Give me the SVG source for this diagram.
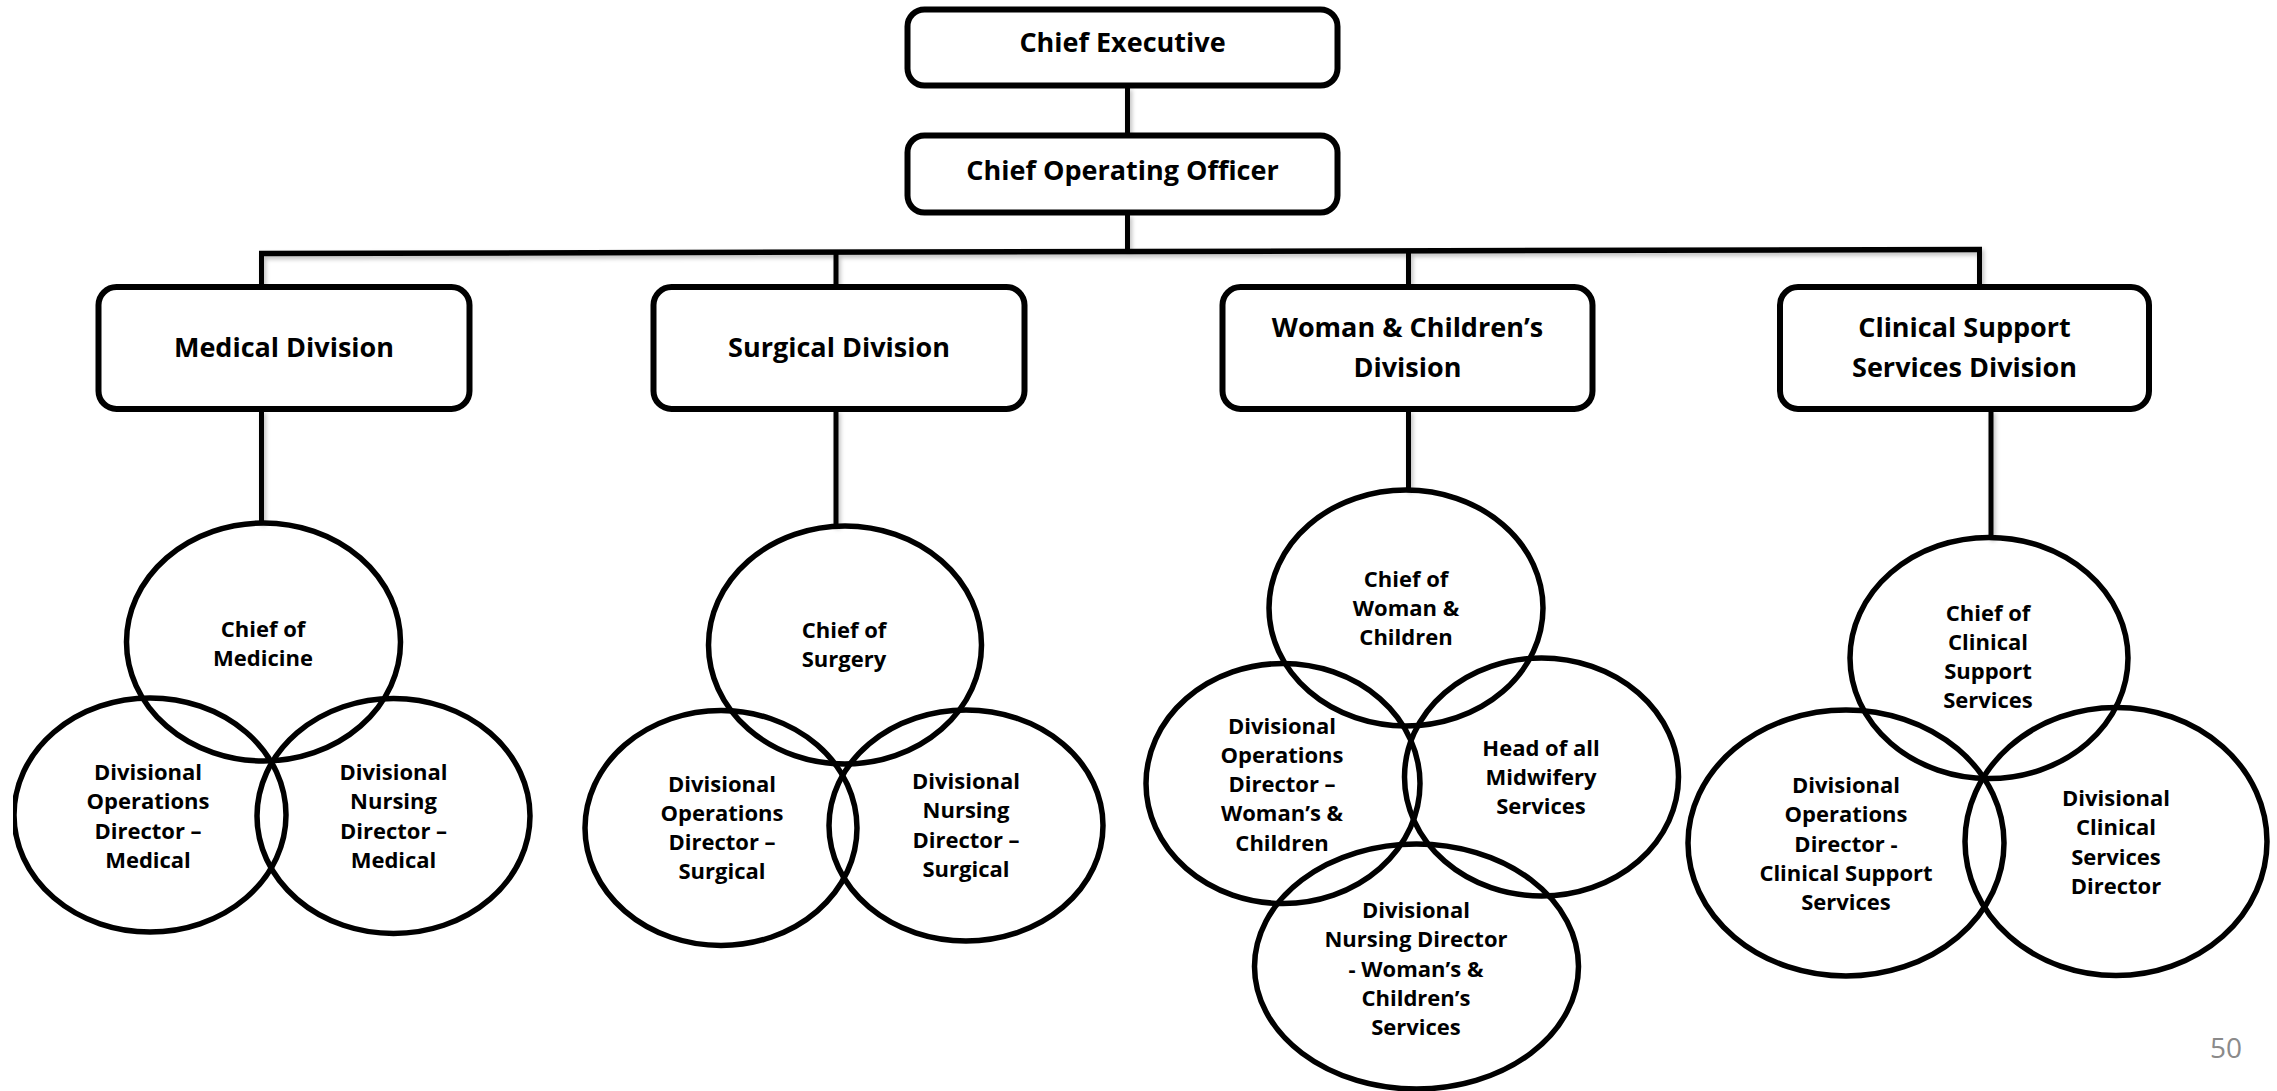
<svg xmlns="http://www.w3.org/2000/svg" width="2277" height="1091" viewBox="0 0 2277 1091">
  <style>
    .box { fill: #ffffff; stroke: #000000; stroke-width: 6; }
    .role { fill: none; stroke: #000000; stroke-width: 5.5; }
    .wire { fill: none; stroke: #000000; stroke-width: 5; stroke-linecap: butt; }
    .bar { stroke-width: 5.5; }
    .head { font-family: "Open Sans", "Liberation Sans", sans-serif; font-weight: bold; font-size: 27px; fill: #000000; text-anchor: middle; }
    .lbl { font-family: "Open Sans", "Liberation Sans", sans-serif; font-weight: bold; font-size: 22px; fill: #000000; text-anchor: middle; }
    .pageno { font-family: "Open Sans", "Liberation Sans", sans-serif; font-size: 28px; fill: #8a8a8a; }
  </style>
  <defs>
    <filter id="soft" x="-20%" y="-20%" width="140%" height="160%">
      <feDropShadow dx="2" dy="3" stdDeviation="2" flood-color="#000000" flood-opacity="0.25"/>
    </filter>
    <clipPath id="page-edge">
      <rect x="13" y="0" width="2264" height="1091"/>
    </clipPath>
  </defs>
  <rect width="2277" height="1091" fill="#ffffff"/>

  <!-- reporting lines -->
  <g id="connectors" filter="url(#soft)">
    <line class="wire" x1="1127.5" y1="87" x2="1127.5" y2="134"/>
    <line class="wire" x1="1127.5" y1="214" x2="1127.5" y2="251"/>
    <line class="wire bar" x1="259" y1="253.5" x2="1982" y2="249.5"/>
    <line class="wire" x1="261.5" y1="253" x2="261.5" y2="286"/>
    <line class="wire" x1="836" y1="252" x2="836" y2="286"/>
    <line class="wire" x1="1408.5" y1="251" x2="1408.5" y2="286"/>
    <line class="wire" x1="1979.5" y1="249" x2="1979.5" y2="286"/>
    <line class="wire" x1="261.5" y1="410" x2="261.5" y2="523"/>
    <line class="wire" x1="836" y1="410" x2="836" y2="526"/>
    <line class="wire" x1="1408.5" y1="410" x2="1408.5" y2="490"/>
    <line class="wire" x1="1991" y1="410" x2="1991" y2="538"/>
  </g>

  <!-- executive tier -->
  <g id="chief-executive">
    <rect class="box" x="907.5" y="9.5" width="430" height="76" rx="17"/>
    <text class="head" x="1122.5" y="52">Chief Executive</text>
  </g>
  <g id="chief-operating-officer">
    <rect class="box" x="907.5" y="135.5" width="430" height="77" rx="17"/>
    <text class="head" x="1122.5" y="180">Chief Operating Officer</text>
  </g>

  <!-- divisions -->
  <g id="medical-division">
    <rect class="box" x="98.5" y="287" width="371" height="122" rx="18"/>
    <text class="head" x="284" y="357">Medical Division</text>
  </g>
  <g id="surgical-division">
    <rect class="box" x="653.5" y="287" width="371" height="122" rx="18"/>
    <text class="head" x="839" y="357">Surgical Division</text>
  </g>
  <g id="women-children-division">
    <rect class="box" x="1222.5" y="287" width="370" height="122" rx="18"/>
    <text class="head" x="1407.5" y="337">Woman &amp; Children’s</text>
    <text class="head" x="1407.5" y="377">Division</text>
  </g>
  <g id="clinical-support-division">
    <rect class="box" x="1780" y="287" width="369" height="122" rx="18"/>
    <text class="head" x="1964.5" y="337">Clinical Support</text>
    <text class="head" x="1964.5" y="377">Services Division</text>
  </g>

  <!-- medical leadership -->
  <g id="chief-of-medicine">
    <ellipse class="role" cx="263.5" cy="642" rx="137" ry="119"/>
    <text class="lbl" x="263" y="636.5">Chief of<tspan x="263" dy="29.3">Medicine</tspan></text>
  </g>
  <g id="ops-director-medical">
    <ellipse class="role" cx="150" cy="815" rx="136" ry="117" clip-path="url(#page-edge)"/>
    <text class="lbl" x="148" y="780">Divisional<tspan x="148" dy="29.3">Operations</tspan><tspan x="148" dy="29.3">Director –</tspan><tspan x="148" dy="29.3">Medical</tspan></text>
  </g>
  <g id="nursing-director-medical">
    <ellipse class="role" cx="393.5" cy="816" rx="136.5" ry="117.5"/>
    <text class="lbl" x="393.5" y="780">Divisional<tspan x="393.5" dy="29.3">Nursing</tspan><tspan x="393.5" dy="29.3">Director –</tspan><tspan x="393.5" dy="29.3">Medical</tspan></text>
  </g>

  <!-- surgical leadership -->
  <g id="chief-of-surgery">
    <ellipse class="role" cx="845" cy="645" rx="136.5" ry="119"/>
    <text class="lbl" x="844" y="638">Chief of<tspan x="844" dy="29.3">Surgery</tspan></text>
  </g>
  <g id="ops-director-surgical">
    <ellipse class="role" cx="721" cy="828" rx="136" ry="117.5"/>
    <text class="lbl" x="722" y="791.5">Divisional<tspan x="722" dy="29.3">Operations</tspan><tspan x="722" dy="29.3">Director –</tspan><tspan x="722" dy="29.3">Surgical</tspan></text>
  </g>
  <g id="nursing-director-surgical">
    <ellipse class="role" cx="966" cy="825.5" rx="137" ry="115.5"/>
    <text class="lbl" x="966" y="789">Divisional<tspan x="966" dy="29.3">Nursing</tspan><tspan x="966" dy="29.3">Director –</tspan><tspan x="966" dy="29.3">Surgical</tspan></text>
  </g>

  <!-- women & children leadership -->
  <g id="chief-of-women-children">
    <ellipse class="role" cx="1406" cy="608" rx="137" ry="118"/>
    <text class="lbl" x="1406" y="586.5">Chief of<tspan x="1406" dy="29.3">Woman &amp;</tspan><tspan x="1406" dy="29.3">Children</tspan></text>
  </g>
  <g id="ops-director-women-children">
    <ellipse class="role" cx="1283" cy="783.5" rx="137" ry="120"/>
    <text class="lbl" x="1282" y="733.5">Divisional<tspan x="1282" dy="29.3">Operations</tspan><tspan x="1282" dy="29.3">Director –</tspan><tspan x="1282" dy="29.3">Woman’s &amp;</tspan><tspan x="1282" dy="29.3">Children</tspan></text>
  </g>
  <g id="head-of-midwifery">
    <ellipse class="role" cx="1541.5" cy="777" rx="137" ry="119"/>
    <text class="lbl" x="1541" y="755.5">Head of all<tspan x="1541" dy="29.3">Midwifery</tspan><tspan x="1541" dy="29.3">Services</tspan></text>
  </g>
  <g id="nursing-director-women-children">
    <ellipse class="role" cx="1416.5" cy="966.5" rx="162" ry="122.5"/>
    <text class="lbl" x="1416" y="918">Divisional<tspan x="1416" dy="29.3">Nursing Director</tspan><tspan x="1416" dy="29.3">- Woman’s &amp;</tspan><tspan x="1416" dy="29.3">Children’s</tspan><tspan x="1416" dy="29.3">Services</tspan></text>
  </g>

  <!-- clinical support leadership -->
  <g id="chief-of-clinical-support">
    <ellipse class="role" cx="1989" cy="658" rx="139" ry="120.5"/>
    <text class="lbl" x="1988" y="620.5">Chief of<tspan x="1988" dy="29.3">Clinical</tspan><tspan x="1988" dy="29.3">Support</tspan><tspan x="1988" dy="29.3">Services</tspan></text>
  </g>
  <g id="ops-director-clinical-support">
    <ellipse class="role" cx="1846" cy="843" rx="158" ry="133"/>
    <text class="lbl" x="1846" y="793">Divisional<tspan x="1846" dy="29.3">Operations</tspan><tspan x="1846" dy="29.3">Director -</tspan><tspan x="1846" dy="29.3">Clinical Support</tspan><tspan x="1846" dy="29.3">Services</tspan></text>
  </g>
  <g id="clinical-services-director">
    <ellipse class="role" cx="2116" cy="841.5" rx="151" ry="134"/>
    <text class="lbl" x="2116" y="806">Divisional<tspan x="2116" dy="29.3">Clinical</tspan><tspan x="2116" dy="29.3">Services</tspan><tspan x="2116" dy="29.3">Director</tspan></text>
  </g>

  <text class="pageno" x="2210" y="1058">50</text>
</svg>
